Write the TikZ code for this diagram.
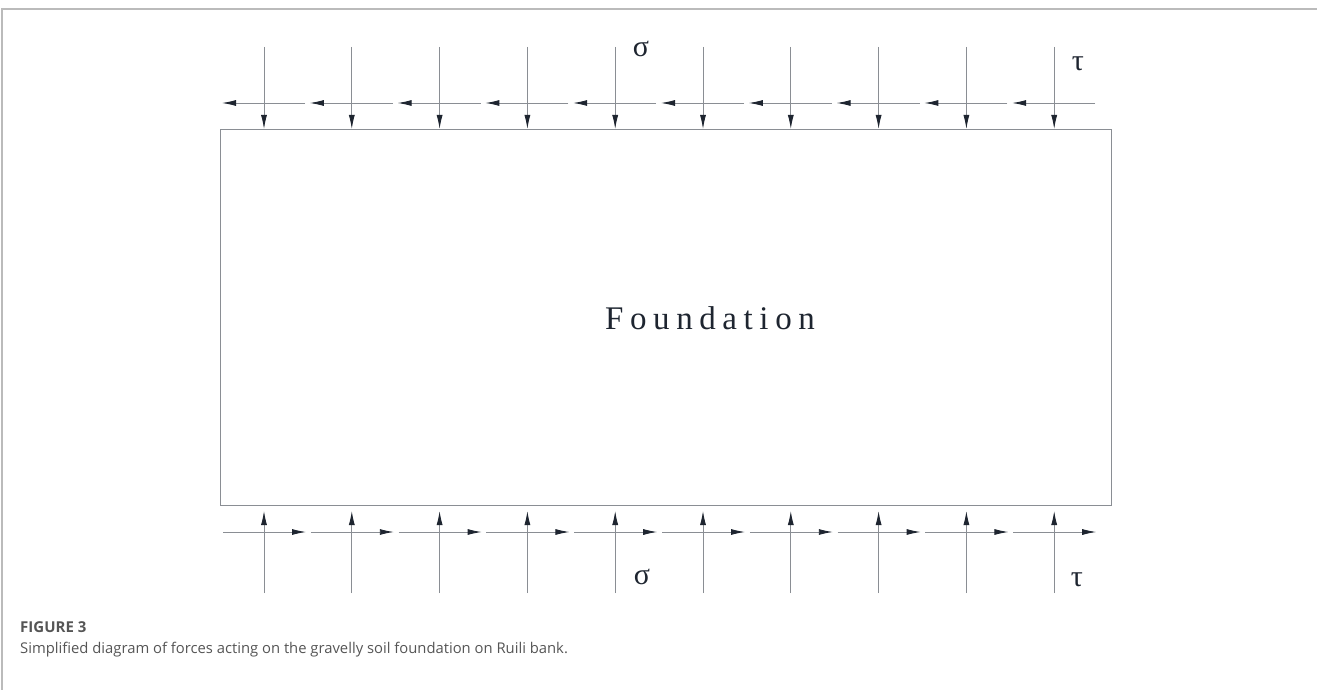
\documentclass[tikz,border=0pt]{standalone}
\usepackage{fontspec}
\setmainfont{Liberation Serif}
\newfontfamily\capfont{Open Sans}
\usetikzlibrary{arrows.meta}
\definecolor{linegray}{HTML}{8A8E94}
\definecolor{framegray}{HTML}{BBBBBB}
\definecolor{tipdark}{HTML}{1E2530}
\definecolor{capgray}{HTML}{555555}
\begin{document}
\begin{tikzpicture}[x=1pt,y=-1pt,
  force/.style={draw=linegray,line width=0.9pt,-{Latex[length=14pt,width=6pt,color=tipdark]}},
  boxline/.style={draw=linegray,line width=1pt},
  sym/.style={font=\fontsize{30}{30}\selectfont,text=tipdark,inner sep=0pt}]
\useasboundingbox (0,0) rectangle (1317,690);
\draw[framegray,line width=1.5pt] (2,690) -- (2,9) -- (1317,9);
\node[boxline,minimum width=891pt,minimum height=376pt,inner sep=0pt,anchor=north west] (found) at (220,129) {};
\node[font=\fontsize{33}{33}\selectfont\addfontfeature{LetterSpace=20},text=tipdark] (flabel) at (710,318) {Foundation};
\foreach \i in {0,...,9}{
  \pgfmathsetmacro{\xx}{264+87.8*\i}
  \coordinate (tv\i) at (\xx,47);
  \coordinate (tt\i) at (\xx,129);
  \coordinate (th\i) at (\xx+41,103);
  \coordinate (tl\i) at (\xx-42,103);
  \coordinate (bv\i) at (\xx,593);
  \coordinate (bt\i) at (\xx,511);
  \coordinate (bh\i) at (\xx-41,532);
  \coordinate (br\i) at (\xx+42,532);
  \draw[force] (tv\i) -- (tt\i);
  \draw[force] (th\i) -- (tl\i);
  \draw[force] (bv\i) -- (bt\i);
  \draw[force] (bh\i) -- (br\i);
}
\node[sym] (sigtop) at (641,49) {σ};
\node[sym] (tautop) at (1078,64) {τ};
\node[sym] (sigbot) at (642,577) {σ};
\node[sym] (taubot) at (1077,580) {τ};
\node[anchor=base west,inner sep=0pt,text=capgray,font=\capfont\bfseries\fontsize{15}{15}\selectfont] (figlab) at (20,632) {FIGURE 3};
\node[anchor=base west,inner sep=0pt,text=capgray,font=\capfont\fontsize{14.8}{14.8}\selectfont] (caption) at (20,653) {Simplified diagram of forces acting on the gravelly soil foundation on Ruili bank.};
\end{tikzpicture}
\end{document}
